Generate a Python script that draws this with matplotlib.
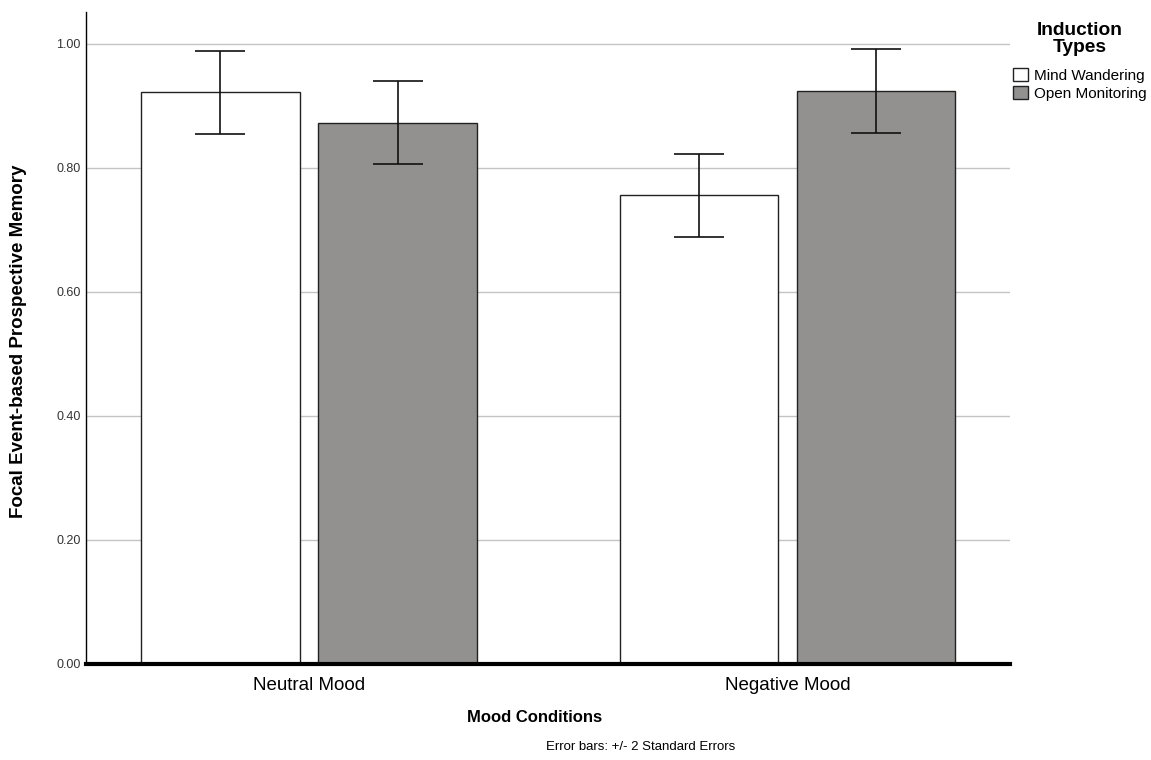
import matplotlib
matplotlib.use("Agg")
import matplotlib.pyplot as plt
from matplotlib.patches import Patch
import numpy as np

plt.rcParams['font.family'] = ['Liberation Sans', 'DejaVu Sans']

categories = ["Neutral Mood", "Negative Mood"]
series_names = ["Mind Wandering", "Open Monitoring"]
mind_wandering = [0.922, 0.756]
mind_wandering_err = [0.067, 0.067]
open_monitoring = [0.873, 0.924]
open_monitoring_err = [0.067, 0.068]
yticks = [0.0, 0.2, 0.4, 0.6, 0.8, 1.0]

fig = plt.figure(figsize=(11.51, 7.6), dpi=100)
ax = fig.add_axes([86/1151, 1-664/760, (1010-86)/1151, (664-12)/760])

x = np.arange(len(categories))
w = 0.332
off = 0.185
colors = ["#ffffff", "#939190"]
for vals, errs, sgn, c in [(mind_wandering, mind_wandering_err, -1, colors[0]),
                           (open_monitoring, open_monitoring_err, 1, colors[1])]:
    ax.bar(x + sgn*off, vals, width=w, color=c, edgecolor="#222222", linewidth=1.0, zorder=3)
    ax.errorbar(x + sgn*off, vals, yerr=errs, fmt='none', ecolor="#111111",
                elinewidth=1.2, capsize=18, capthick=1.2, zorder=4)

ax.set_xlim(-0.466, 1.465)
ax.set_ylim(0, 1.0516)
ax.set_yticks(yticks)
ax.set_yticklabels([f"{v:.2f}" for v in yticks], fontsize=9, color="#333333")
ax.set_xticks(x)
ax.set_xticklabels(categories, fontsize=13.5)
ax.tick_params(axis='x', length=0, pad=9)
ax.tick_params(axis='y', length=0, pad=4)
ax.yaxis.grid(True, color="#c4c4c4", linewidth=1.0, zorder=0)
ax.set_axisbelow(True)
for s in ["top", "right"]:
    ax.spines[s].set_visible(False)
ax.spines["left"].set_linewidth(1.0)
ax.spines["bottom"].set_linewidth(3.0)
ax.spines["bottom"].set_zorder(5)

fig.text(19/1151, 1-341/760, "Focal Event-based Prospective Memory", rotation=90,
         ha="center", va="center", fontsize=13.5, fontweight="bold")
fig.text(535/1151, 1-717/760, "Mood Conditions", ha="center", va="center",
         fontsize=12, fontweight="bold")
fig.text(641/1151, 1-747/760, "Error bars: +/- 2 Standard Errors", ha="center",
         va="center", fontsize=9.5)

fig.text(1080/1151, 1-39/760, "Induction\nTypes", ha="center", va="center",
         fontsize=13.8, fontweight="bold", linespacing=1.0)
handles = [Patch(facecolor=colors[i], edgecolor="#222222", linewidth=1.0, label=series_names[i])
           for i in range(2)]
leg = fig.legend(handles=handles, loc="upper left",
                 bbox_to_anchor=(1013/1151, 1-68/760), frameon=False, fontsize=11,
                 handlelength=0.95, handleheight=0.95, handletextpad=0.4, labelspacing=0.2,
                 borderaxespad=0, borderpad=0)

fig.savefig("out.png", dpi=100)
